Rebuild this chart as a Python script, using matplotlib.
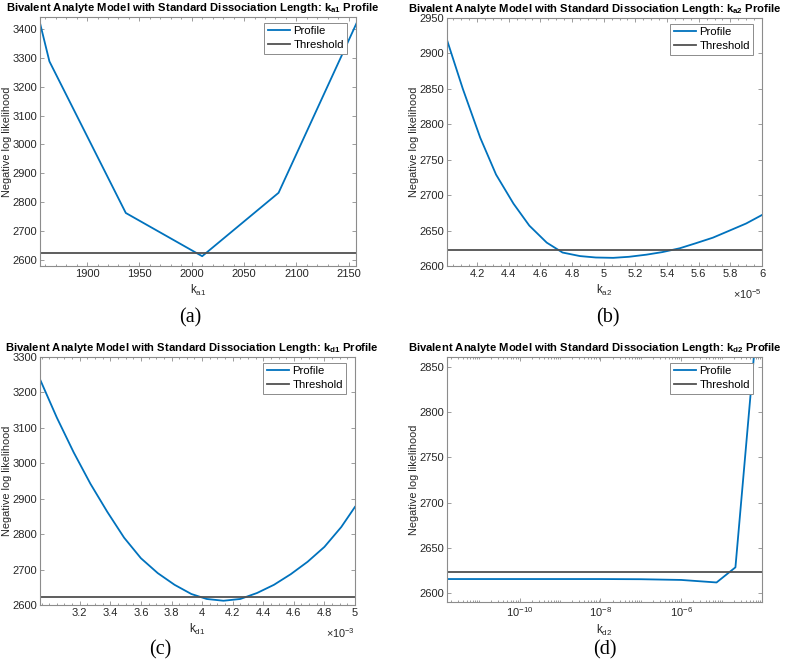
import numpy as np
import matplotlib
matplotlib.use("Agg")
import matplotlib.pyplot as plt
from matplotlib.ticker import FixedLocator, FuncFormatter, LogLocator, NullFormatter

plt.rcParams['font.family'] = ['Liberation Sans', 'DejaVu Sans']
plt.rcParams['mathtext.fontset'] = 'custom'
plt.rcParams['mathtext.rm'] = 'Liberation Sans'
plt.rcParams['mathtext.it'] = 'Liberation Sans:italic'
plt.rcParams['mathtext.bf'] = 'Liberation Sans:bold'

# profile data
ka1 = [1855, 1864, 1937, 2010, 2083, 2160]
ka1_nll = [3421, 3288, 2762, 2612, 2832, 3440]

ka2 = [4.01, 4.11, 4.22, 4.32, 4.43, 4.53, 4.64, 4.74, 4.85, 4.95,
       5.06, 5.16, 5.27, 5.37, 5.48, 5.58, 5.69, 5.79, 5.90, 6.00]   # x 1e-5
ka2_nll = [2919, 2850, 2781, 2729, 2688, 2657, 2633, 2619, 2614, 2612,
           2611.5, 2613, 2616, 2619.6, 2625, 2632, 2640, 2649.5, 2660, 2672]

kd1 = [2.94, 3.05, 3.16, 3.27, 3.38, 3.49, 3.60, 3.71, 3.82, 3.93,
       4.03, 4.14, 4.25, 4.36, 4.47, 4.58, 4.69, 4.80, 4.91, 5.00]   # x 1e-3
kd1_nll = [3237, 3129, 3031, 2942, 2863, 2790, 2732, 2690, 2657, 2631,
           2617, 2612, 2617, 2634, 2657, 2687, 2722, 2764, 2820, 2877]

kd2 = [1.6e-12, 1e-11, 1e-10, 1e-9, 1e-8, 1e-7, 1e-6, 7.5e-6, 2.2e-5, 1.0e-4]
kd2_nll = [2615, 2615, 2615, 2615, 2615, 2614.8, 2614, 2611.2, 2628, 2965]

threshold = 2622.8

ka1_ticks = [1900, 1950, 2000, 2050, 2100, 2150]
ka2_ticks = [4.2, 4.4, 4.6, 4.8, 5.0, 5.2, 5.4, 5.6, 5.8, 6.0]
kd1_ticks = [3.2, 3.4, 3.6, 3.8, 4.0, 4.2, 4.4, 4.6, 4.8, 5.0]

blue = '#0072BD'
grey = '#505050'
box = '#8c8c8c'
txt = '#262626'

fig = plt.figure(figsize=(7.9, 6.65), dpi=100)

def style(ax, sub, panel, px, py, tx):
    for s in ax.spines.values():
        s.set_color(box)
        s.set_linewidth(0.8)
    ax.tick_params(which='both', direction='in', top=True, right=True,
                   color=box, labelcolor=txt, labelsize=8, width=0.6)
    ax.tick_params(which='major', length=3.2, pad=2)
    ax.tick_params(which='minor', length=1.6)
    ax.set_title(r'Bivalent Analyte Model with Standard Dissociation Length: k$_{\mathbf{%s}}$ Profile' % sub,
                 fontsize=8.1, fontweight='bold', color='black', pad=4, x=tx)
    ax.set_xlabel(r'k$_{\mathrm{%s}}$' % sub, fontsize=8.3, color=txt, labelpad=3)
    ax.set_ylabel('Negative log likelihood', fontsize=7.8, color=txt, labelpad=0.5)
    leg = ax.legend(loc='upper right', bbox_to_anchor=(0.972, 0.976), borderaxespad=0,
                    fontsize=8.2, frameon=True, fancybox=False, framealpha=1,
                    handlelength=2.0, handletextpad=0.25, borderpad=0.3,
                    labelspacing=0.35)
    leg.get_frame().set_edgecolor(box)
    leg.get_frame().set_linewidth(0.7)
    fig.text(px / 790, 1 - py / 665, panel, fontsize=14.5, family='Liberation Serif',
             ha='center', va='center', color='black')

# (a)
ax = fig.add_axes([40 / 790, 1 - 266 / 665, 316 / 790, 249 / 665])
ax.plot(ka1, ka1_nll, color=blue, lw=1.3, label='Profile')
ax.axhline(threshold, color=grey, lw=1.3, label='Threshold')
ax.set_xlim(1855, 2157)
ax.set_ylim(2578, 3442)
ax.set_xticks(ka1_ticks)
ax.xaxis.set_minor_locator(FixedLocator(np.arange(1860, 2160, 10)))
ax.set_yticks(np.arange(2600, 3401, 100))
style(ax, 'a1', '(a)', 190, 318, 0.482)

# (b)
ax = fig.add_axes([447 / 790, 1 - 266 / 665, 315 / 790, 248 / 665])
ax.plot(np.array(ka2) * 1e-5, ka2_nll, color=blue, lw=1.3, label='Profile')
ax.axhline(threshold, color=grey, lw=1.3, label='Threshold')
ax.set_xlim(ka2[0] * 1e-5, ka2[-1] * 1e-5)
ax.set_ylim(2600, 2950)
ax.set_xticks(np.array(ka2_ticks) * 1e-5)
ax.xaxis.set_minor_locator(FixedLocator(np.arange(4.05, 6.0, 0.05) * 1e-5))
ax.xaxis.set_major_formatter(FuncFormatter(lambda v, p: '%g' % round(v * 1e5, 3)))
ax.set_yticks(np.arange(2600, 2951, 50))
ax.text(1.0, -0.085, r'$\times$10$^{-5}$', transform=ax.transAxes, ha='right', va='top',
        fontsize=7.8, color=txt)
style(ax, 'a2', '(b)', 608, 318, 0.47)

# (c)
ax = fig.add_axes([40 / 790, 1 - 605 / 665, 315 / 790, 248 / 665])
ax.plot(np.array(kd1) * 1e-3, kd1_nll, color=blue, lw=1.3, label='Profile')
ax.axhline(threshold, color=grey, lw=1.3, label='Threshold')
ax.set_xlim(kd1[0] * 1e-3, kd1[-1] * 1e-3)
ax.set_ylim(2600, 3300)
ax.set_xticks(np.array(kd1_ticks) * 1e-3)
ax.xaxis.set_minor_locator(FixedLocator(np.arange(2.95, 5.0, 0.05) * 1e-3))
ax.xaxis.set_major_formatter(FuncFormatter(lambda v, p: '%g' % round(v * 1e3, 3)))
ax.set_yticks(np.arange(2600, 3301, 100))
ax.text(1.0, -0.085, r'$\times$10$^{-3}$', transform=ax.transAxes, ha='right', va='top',
        fontsize=7.8, color=txt)
style(ax, 'd1', '(c)', 160, 650, 0.482)

# (d)
ax = fig.add_axes([447 / 790, 1 - 602 / 665, 315 / 790, 245 / 665])
ax.plot(kd2, kd2_nll, color=blue, lw=1.3, label='Profile')
ax.axhline(threshold, color=grey, lw=1.3, label='Threshold')
ax.set_xscale('log')
ax.set_xlim(kd2[0], kd2[-1])
ax.set_ylim(2589.5, 2861.6)
ax.xaxis.set_major_locator(FixedLocator([1e-10, 1e-8, 1e-6]))
ax.xaxis.set_minor_locator(LogLocator(base=10, subs=np.arange(1, 10), numticks=30))
ax.xaxis.set_minor_formatter(NullFormatter())
ax.set_yticks(np.arange(2600, 2851, 50))
style(ax, 'd2', '(d)', 605, 650, 0.47)

fig.savefig('out.png', dpi=100)
